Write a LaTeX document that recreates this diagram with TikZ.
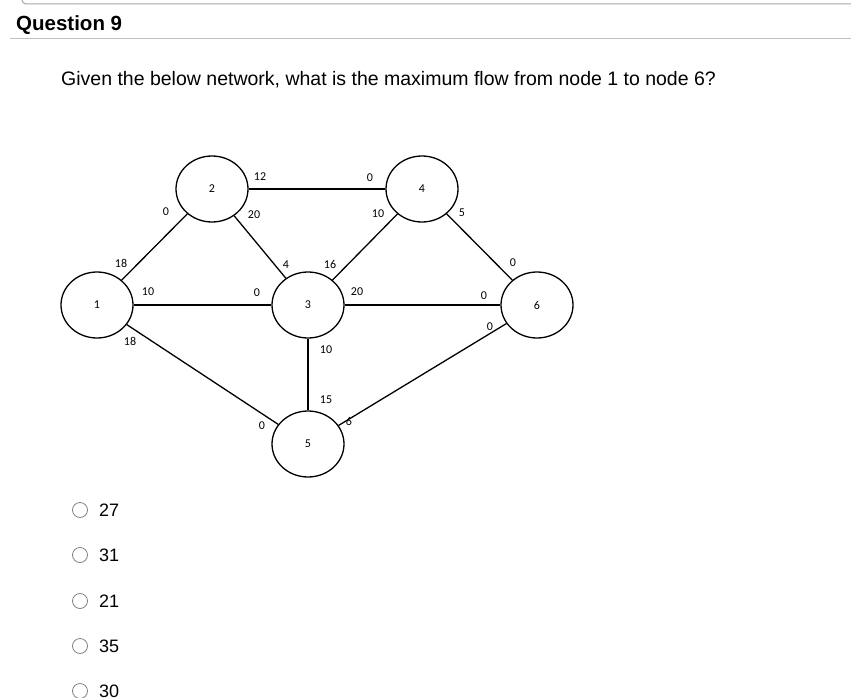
\documentclass[tikz,border=0pt]{standalone}
\usepackage{fontspec}
\setmainfont{Liberation Sans}
\newfontfamily\labfont{Carlito}
\usetikzlibrary{shapes.geometric}
\begin{document}
\begin{tikzpicture}[x=1pt,y=-1pt,
  vert/.style={draw,line width=1.3pt,ellipse,minimum width=72pt,minimum height=66pt,inner sep=0pt,font=\labfont\fontsize{12}{12}\selectfont},
  edge/.style={line width=1.3pt},
  lab/.style={font=\labfont\fontsize{12}{12}\selectfont,inner sep=0pt},
  opt/.style={draw=gray,line width=0.8pt,circle,minimum size=15pt,inner sep=0pt},
  opttxt/.style={anchor=west,font=\fontsize{18}{18}\selectfont,inner sep=0pt}]
\useasboundingbox (0,0) rectangle (851,698);
\draw[gray!70,line width=1pt,rounded corners=4pt] (22,-10) -- (22,4) -- (860,4);
\draw[gray!50,line width=0.8pt] (10,38) -- (851,38);
\node[anchor=west,inner sep=0pt,font=\bfseries\fontsize{20.5}{20.5}\selectfont] (title) at (16,25) {Question 9};
\node[anchor=west,inner sep=0pt,font=\fontsize{19.5}{19.5}\selectfont] (q) at (61,80) {Given the below network, what is the maximum flow from node 1 to node 6?};
\node[vert] (n1) at (97,305) {1};
\node[vert] (n2) at (212,189) {2};
\node[vert] (n4) at (422,189) {4};
\node[vert] (n3) at (308,305) {3};
\node[vert] (n6) at (537,305) {6};
\node[vert] (n5) at (308,444) {5};
\draw[edge] (n1)--(n2); \draw[edge] (n1)--(n3); \draw[edge] (n1)--(n5);
\draw[edge] (n2)--(n4); \draw[edge] (n2)--(n3);
\draw[edge] (n4)--(n3); \draw[edge] (n4)--(n6);
\draw[edge] (n3)--(n6); \draw[edge] (n3)--(n5); \draw[edge] (n5)--(n6);
\foreach \t/\x/\y [count=\i] in {12/260/177,20/254/215,0/166/212,0/370/178,10/378/214,5/462/213,18/121/263,10/148/292,18/130/341,4/286/265,16/330/264,0/257/293,20/357/292,0/513/263,0/484/296,0/490/327,10/326/350,15/326/400,0/262/426,6/349/421}
  \node[lab] (l\i) at (\x,\y) {\t};
\foreach \y/\t [count=\i] in {510/27,555/31,601/21,646/35,691/30}{
  \node[opt] (o\i) at (80,\y) {};
  \node[opttxt] (ot\i) at (99,\y) {\t};
}
\end{tikzpicture}
\end{document}
